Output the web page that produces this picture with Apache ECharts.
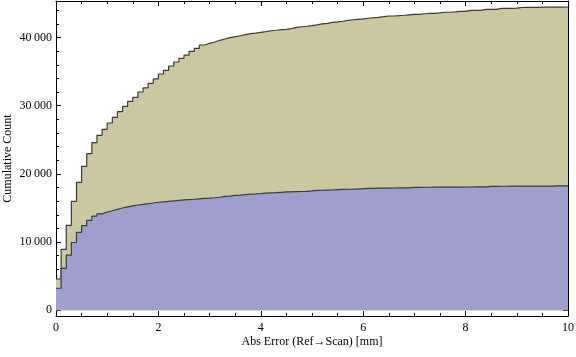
<!DOCTYPE html>
<html>
<head>
<meta charset="utf-8">
<script src="https://cdn.jsdelivr.net/npm/echarts@6/dist/echarts.min.js"></script>
<style>html,body{margin:0;padding:0;background:#fff;}#c{width:576px;height:357px;}</style>
</head>
<body>
<div id="c"></div>
<script>
// Bin width of the cumulative histogram (mm)
const binWidth = 0.1;
// Cumulative counts per 0.1 mm bin (upper, olive series: all points)
const totalCounts = [
 4590, 8940, 12460, 15980, 18770, 21110, 22960, 24580, 25660, 26540,
 27460, 28300, 29120, 29910, 30640, 31230, 32010, 32600, 33280, 33920,
 34650, 35190, 35820, 36410, 36950, 37430, 37980, 38420, 38900, 39150,
 39340, 39590, 39780, 39970, 40120, 40260, 40410, 40560, 40650, 40760,
 40850, 40990, 41060, 41150, 41200, 41300, 41480, 41580, 41650, 41730,
 41860, 42000, 42080, 42230, 42300, 42380, 42520, 42600, 42670, 42740,
 42820, 42900, 42960, 43050, 43150, 43150, 43200, 43260, 43330, 43400,
 43400, 43480, 43550, 43550, 43600, 43700, 43700, 43760, 43840, 43840,
 43990, 43990, 43990, 44130, 44130, 44130, 44270, 44280, 44280, 44300,
 44400, 44420, 44430, 44430, 44440, 44440, 44450, 44460, 44460, 44470
];
// Cumulative counts per 0.1 mm bin (lower, blue series)
const subsetCounts = [
 3230, 6160, 8080, 9940, 11440, 12430, 13200, 13800, 14140, 14410,
 14600, 14810, 15000, 15160, 15310, 15440, 15540, 15630, 15730, 15840,
 15900, 15980, 16050, 16130, 16180, 16230, 16280, 16350, 16420, 16450,
 16500, 16580, 16700, 16740, 16860, 16900, 16950, 17030, 17060, 17100,
 17180, 17210, 17240, 17300, 17350, 17370, 17400, 17420, 17440, 17500,
 17590, 17600, 17620, 17640, 17700, 17740, 17750, 17760, 17780, 17830,
 17890, 17890, 17900, 17910, 17920, 17930, 17940, 17950, 17960, 18030,
 18030, 18040, 18040, 18050, 18050, 18060, 18060, 18070, 18070, 18080,
 18080, 18090, 18090, 18100, 18180, 18180, 18190, 18190, 18200, 18200,
 18200, 18210, 18210, 18210, 18220, 18220, 18220, 18230, 18230, 18230
];
// Axis tick values
const xMin = 0, xMax = 10, xMajor = 2;
const yMin = -836, yMax = 45352;
const yMajorTicks = [0, 10000, 20000, 30000, 40000];
const yMinorTicks = [2000, 4000, 6000, 8000, 12000, 14000, 16000, 18000, 22000, 24000, 26000, 28000, 32000, 34000, 36000, 38000, 42000, 44000];
const xTitle = 'Abs Error (Ref\u2192Scan) [mm]';
const yTitle = 'Cumulative Count';

function stepData(vals) {
  const d = vals.map((v, i) => [i * binWidth, v]);
  d.push([vals.length * binWidth, vals[vals.length - 1]]);
  return d;
}
function fmt(v) {
  if (v === 0) return '0';
  const s = String(v);
  return s.slice(0, s.length - 3) + '\u2009' + s.slice(s.length - 3);
}

const FONT = "'Liberation Serif','Times New Roman',serif";
const black = '#000';

function xAx(pos, labels) {
  return {
    type: 'value', min: xMin, max: xMax, interval: xMajor, position: pos,
    axisLine: { show: true, onZero: false, lineStyle: { color: black, width: 1 } },
    axisTick: { show: true, inside: true, length: 5, lineStyle: { color: black, width: 1 } },
    minorTick: { show: true, splitNumber: 4, length: 3, lineStyle: { color: black, width: 1 } },
    splitLine: { show: false }, minorSplitLine: { show: false },
    axisLabel: { show: labels, fontFamily: FONT, fontSize: 12, color: black, margin: 6 },
    name: labels ? xTitle : '', nameLocation: 'middle', nameGap: 20, nameMoveOverlap: false,
    nameTextStyle: { fontFamily: FONT, fontSize: 12, color: black }
  };
}
function yAx(pos, major, labels, showLine) {
  return {
    type: 'value', min: yMin, max: yMax, position: pos,
    axisLine: { show: showLine, onZero: false, lineStyle: { color: black, width: 1 } },
    axisTick: { show: true, inside: true, length: major ? 5 : 3, customValues: major ? yMajorTicks : yMinorTicks, lineStyle: { color: black, width: 1 } },
    splitLine: { show: false },
    axisLabel: { show: labels, customValues: yMajorTicks, formatter: fmt, fontFamily: FONT, fontSize: 12, color: black, margin: 4 },
    name: labels ? yTitle : '', nameLocation: 'middle', nameGap: 42, nameMoveOverlap: false,
    nameTextStyle: { fontFamily: FONT, fontSize: 12, color: black }
  };
}

const chart = echarts.init(document.getElementById('c'), null, { renderer: 'canvas' });
chart.setOption({
  animation: false,
  backgroundColor: '#fff',
  grid: { left: 56, right: 8, top: 1, bottom: 41, containLabel: false, outerBoundsMode: 'none' },
  xAxis: [xAx('bottom', true), xAx('top', false)],
  yAxis: [yAx('left', true, true, true), yAx('left', false, false, false), yAx('right', true, false, true), yAx('right', false, false, false)],
  series: [
    {
      type: 'line', step: 'end', data: stepData(totalCounts), xAxisIndex: 0, yAxisIndex: 0,
      symbol: 'none', lineStyle: { color: '#3a3a3a', width: 1.2 },
      areaStyle: { color: 'rgb(203,199,160)', opacity: 1 }, z: 1
    },
    {
      type: 'line', step: 'end', data: stepData(subsetCounts), xAxisIndex: 0, yAxisIndex: 0,
      symbol: 'none', lineStyle: { color: '#3a3a3a', width: 1.2 },
      areaStyle: { color: 'rgb(160,158,204)', opacity: 1 }, z: 2
    }
  ]
});
</script>
</body>
</html>
